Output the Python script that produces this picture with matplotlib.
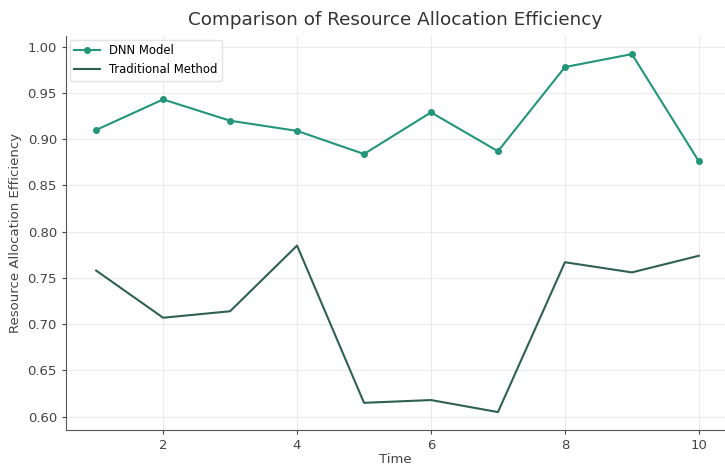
import matplotlib
matplotlib.use("Agg")
import matplotlib.pyplot as plt

# data
time = [1, 2, 3, 4, 5, 6, 7, 8, 9, 10]
dnn_model = [0.910, 0.943, 0.920, 0.909, 0.884, 0.929, 0.887, 0.978, 0.992, 0.876]
traditional = [0.758, 0.707, 0.714, 0.785, 0.615, 0.618, 0.605, 0.767, 0.756, 0.774]

fig = plt.figure(figsize=(7.25, 4.66), dpi=100)
ax = fig.add_axes([66 / 725, 0.0773, (725 - 66) / 725, 0.845])

ax.plot(time, dnn_model, color="#22957a", marker="o", markersize=4, linewidth=1.5, label="DNN Model")
ax.plot(time, traditional, color="#2f6153", linewidth=1.5, label="Traditional Method")

ax.set_xlim(0.55, 10.39)
ax.set_title("Comparison of Resource Allocation Efficiency", fontsize=13.2, color="#333333", pad=8)
ax.set_xlabel("Time", fontsize=9.5, color="#444444", labelpad=0.5)
ax.set_ylabel("Resource Allocation Efficiency", fontsize=9.5, color="#444444")

ax.grid(True, color="#ebebeb", linewidth=0.8)
ax.set_axisbelow(True)
for side in ["top", "right"]:
    ax.spines[side].set_visible(False)
for side in ["left", "bottom"]:
    ax.spines[side].set_color("#555555")
ax.tick_params(colors="#444444", labelsize=9.5, direction="out", length=3)

ax.legend(loc="upper left", fontsize=8.4, frameon=True, framealpha=0.8, edgecolor="#dddddd",
          borderaxespad=0.3, handlelength=2.2)

fig.savefig("out.png", dpi=100)
